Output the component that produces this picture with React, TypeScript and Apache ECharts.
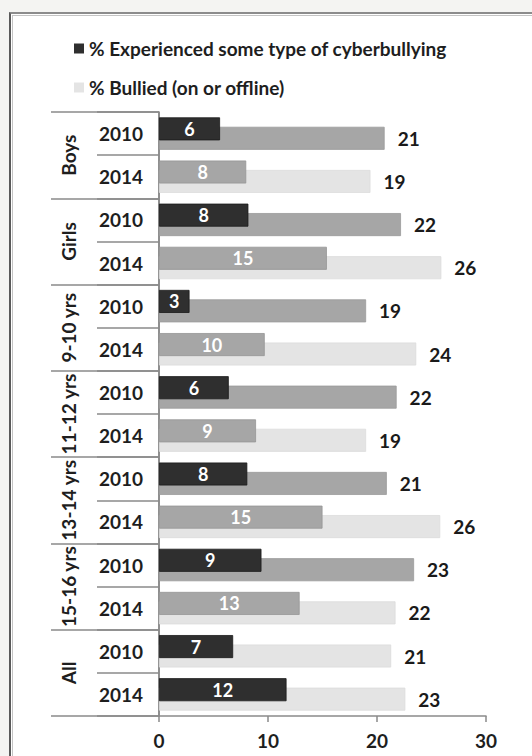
import React, { useEffect, useRef } from "react";
import * as echarts from "echarts";

const groups = ["Boys", "Girls", "9-10 yrs", "11-12 yrs", "13-14 yrs", "15-16 yrs", "All"];
const years = ["2010", "2014"];
const cyberName = "% Experienced some type of cyberbullying";
const bulliedName = "% Bullied (on or offline)";
// rows: each group x each year, top to bottom
const cyber = [5.6, 8.0, 8.2, 15.4, 2.8, 9.7, 6.4, 8.9, 8.1, 15.0, 9.4, 12.9, 6.8, 11.7];
const bullied = [20.7, 19.4, 22.2, 25.9, 19.0, 23.6, 21.8, 19.0, 20.9, 25.8, 23.4, 21.7, 21.3, 22.6];
const xTicks = [0, 10, 20, 30];

const FONT = "Lato, 'Open Sans', sans-serif";
const DARK = "#2f2f2f";
const MID = "#a6a6a6";
const LIGHT = "#e4e4e4";

export default function App() {
  const ref = useRef<HTMLDivElement>(null);
  useEffect(() => {
    if (!ref.current) return;
    const chart = echarts.init(ref.current, undefined, { renderer: "svg" });
    const rowYears: string[] = [];
    const rowGroups: string[] = [];
    groups.forEach((g) => years.forEach((y) => { rowYears.push(y); rowGroups.push(g); }));

    const cyberData = cyber.map((v, i) => {
      const isAll = rowGroups[i] === "All";
      const is2014 = rowYears[i] === "2014";
      const c = isAll || !is2014 ? DARK : MID;
      return { value: v, itemStyle: { color: c, borderColor: isAll || !is2014 ? "#1a1a1a" : "#959595", borderWidth: 0.8 } };
    });
    const bulliedData = bullied.map((v, i) => {
      const isAll = rowGroups[i] === "All";
      const is2014 = rowYears[i] === "2014";
      const c = isAll || is2014 ? LIGHT : MID;
      return { value: v, itemStyle: { color: c, borderColor: isAll || is2014 ? "#dcdcdc" : "#9a9a9a", borderWidth: 0.8 } };
    });

    chart.setOption({
      animation: false,
      textStyle: { fontFamily: FONT },
      legend: {
        orient: "vertical",
        left: 69,
        top: 34,
        itemWidth: 10,
        itemHeight: 10,
        itemGap: 20,
        icon: "rect",
        data: [cyberName, bulliedName],
        textStyle: { fontFamily: FONT, fontSize: 19, fontWeight: "bold", color: "#1e1e1e" },
      },
      grid: { left: 159, right: 46, top: 112, bottom: 40, containLabel: false, outerBoundsMode: "none" },
      xAxis: {
        type: "value",
        min: xTicks[0],
        max: xTicks[xTicks.length - 1],
        interval: 10,
        axisLine: { show: true, lineStyle: { color: "#8a8a8a", width: 1.5 } },
        axisTick: { show: true, length: 6, lineStyle: { color: "#8a8a8a", width: 1.5 } },
        splitLine: { show: false },
        axisLabel: { fontFamily: FONT, fontSize: 19, fontWeight: "bold", color: "#1e1e1e", margin: 15 },
      },
      yAxis: [
        {
          type: "category",
          data: rowYears,
          inverse: true,
          position: "left",
          axisLine: { show: true, lineStyle: { color: "#6a6a6a", width: 1.5 } },
          axisTick: { show: true, length: 62, interval: 0, lineStyle: { color: "#8a8a8a", width: 1.5 } },
          axisLabel: { interval: 0, fontFamily: FONT, fontSize: 19, fontWeight: "bold", color: "#1e1e1e", margin: 16 },
        },
        {
          type: "category",
          data: groups,
          inverse: true,
          position: "left",
          offset: 0,
          axisLine: { show: false },
          axisTick: { show: true, length: 108, interval: 0, lineStyle: { color: "#8a8a8a", width: 1.5 } },
          axisLabel: { interval: 0, rotate: 90, fontFamily: FONT, fontSize: 19, fontWeight: "bold", color: "#1e1e1e", margin: 81 },
        },
      ],
      series: [
        {
          name: cyberName,
          type: "bar",
          yAxisIndex: 0,
          z: 3,
          barWidth: 23,
          barGap: "-59%",
          itemStyle: { color: DARK },
          label: {
            show: true,
            position: "inside",
            color: "#ffffff",
            fontFamily: FONT,
            fontSize: 18,
            fontWeight: "bold",
            formatter: (p: any) => String(Math.round(p.value)),
          },
          data: cyberData,
        },
        {
          name: bulliedName,
          type: "bar",
          yAxisIndex: 0,
          z: 2,
          barWidth: 23,
          barGap: "-59%",
          itemStyle: { color: LIGHT },
          label: {
            show: true,
            position: "right",
            distance: 13,
            color: "#1a1a1a",
            fontFamily: FONT,
            fontSize: 19,
            fontWeight: "bold",
            formatter: (p: any) => String(Math.round(p.value)),
          },
          data: bulliedData,
        },
      ],
    });
    return () => chart.dispose();
  }, []);

  return (
    <div style={{ position: "absolute", left: 0, top: 0, width: 532, height: 756, overflow: "hidden", background: "#f4f4f2" }}>
      <div
        style={{
          position: "absolute",
          left: 9,
          top: 12,
          width: 620,
          height: 800,
          background: "#ffffff",
          borderLeft: "2px solid #5a5a5a",
          borderTop: "2px solid #8c8c8c",
        }}
      >
        <div
          style={{
            position: "absolute",
            left: 1,
            top: 1,
            width: 700,
            height: 900,
            borderLeft: "1px solid #c4c4c4",
            borderTop: "1px solid #c4c4c4",
          }}
        />
      </div>
      <div ref={ref} style={{ position: "absolute", left: 0, top: 0, width: 532, height: 756 }} />
    </div>
  );
}
